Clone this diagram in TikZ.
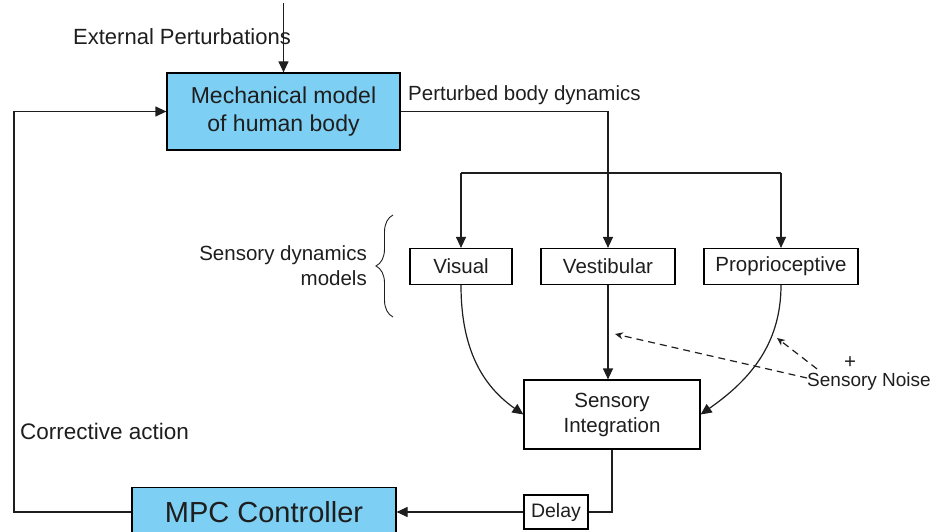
\documentclass[tikz,border=0pt]{standalone}
\usepackage{fontspec}
\setmainfont{Liberation Sans}
\usepackage{xcolor}
\usetikzlibrary{arrows.meta,decorations.pathreplacing}
\definecolor{boxblue}{RGB}{125,207,243}
\definecolor{inkgray}{RGB}{30,30,30}
\tikzset{
  pbblue/.style={draw=black, fill=boxblue, line width=1.2pt, inner sep=0pt,
                 align=center, text=inkgray},
  pbbox/.style={draw=black, fill=white, line width=1.2pt, inner sep=0pt,
                align=center, minimum height=36pt, text=inkgray,
                font=\fontsize{20.5}{25}\selectfont},
  pbw/.style={line width=1.2pt, draw=inkgray},
  pba/.style={pbw, -{Triangle[length=11pt,width=10pt]}},
  pbd/.style={pbw, dash pattern=on 7pt off 5pt, -{Stealth[length=8pt,width=7pt]}},
  pblab/.style={text=inkgray, inner sep=0pt, font=\fontsize{20.5}{25}\selectfont}
}

\begin{document}
\begin{tikzpicture}[x=10pt, y=-10pt]
  \useasboundingbox (0,0) rectangle (93.5,53.2);
  % blocks
  \node[pbblue, minimum width=233pt, minimum height=77pt,
        font=\fontsize{23}{28}\selectfont] (mech) at (28.35,11.15) {Mechanical model\\of human body};
  \node[pbblue, minimum width=264pt, minimum height=49pt,
        font=\fontsize{29}{34}\selectfont] (mpc) at (26.4,51.2) {MPC Controller};
  \node[pbbox, minimum width=102pt] (vis) at (46.1,26.65) {Visual};
  \node[pbbox, minimum width=134pt] (vest) at (60.8,26.65) {Vestibular};
  \node[pbbox, minimum width=154pt] (prop) at (78.1,26.65) {Proprioceptive};
  \node[pbbox, minimum width=176pt, minimum height=69pt] (integ) at (61.2,41.45) {Sensory\\Integration};
  \node[pbbox, minimum width=64pt, minimum height=34pt,
        font=\fontsize{19.5}{23}\selectfont] (delay) at (55.6,51.2) {Delay};
  % labels
  \node[pblab, font=\fontsize{22}{26}\selectfont, anchor=west] (ext) at (7.3,3.7) {External Perturbations};
  \node[pblab, anchor=west] (pert) at (40.8,9.5) {Perturbed body dynamics};
  \node[pblab, align=right, anchor=east] (sdm) at (36.7,26.55) {Sensory dynamics\\models};
  \node[pblab, font=\fontsize{19}{23}\selectfont] (noise) at (86.9,38.2) {Sensory Noise};
  \node[pblab] (plus) at (85.0,36.3) {+};
  \node[pblab, font=\fontsize{22.5}{27}\selectfont, anchor=west] (corr) at (2.0,43.1) {Corrective action};
  % body dynamics to the sensors
  \coordinate (top) at (28.35,0.3);
  \draw[pba] (top) -- (mech.north);
  \draw[pba] (mech.east) -| (vest.north);
  \coordinate (split) at (60.8,17.3);
  \draw[pbw] (split -| vis.north) -- (split -| prop.north);
  \draw[pba] (split -| vis.north) -- (vis.north);
  \draw[pba] (split -| prop.north) -- (prop.north);
  \draw[pbw, line width=0.9pt, decorate, decoration={brace, amplitude=17pt}]
    (39.3,31.7) -- (39.3,21.5);
  % sensors to integration
  \draw[pba] (vest.south) -- (vest.south |- integ.north);
  \draw[pba] (vis.south) to[out=-90, in=145] (integ.west);
  \draw[pba] (prop.south) to[out=-90, in=35] (integ.east);
  \coordinate (nvest) at (61.5,33.4);
  \coordinate (nprop) at (77.7,33.8);
  \draw[pbd] ([yshift=4pt]noise.west) -- (nvest);
  \draw[pbd] ([xshift=10pt,yshift=4pt]noise.north west) -- (nprop);
  % feedback loop
  \draw[pbw] (integ.south) |- (delay.east);
  \draw[pba] (delay.west) -- (mpc.east);
  \coordinate (fb) at (1.4,30);
  \draw[pba] (mpc.west) -| (fb) |- (mech.west);
\end{tikzpicture}
\end{document}
